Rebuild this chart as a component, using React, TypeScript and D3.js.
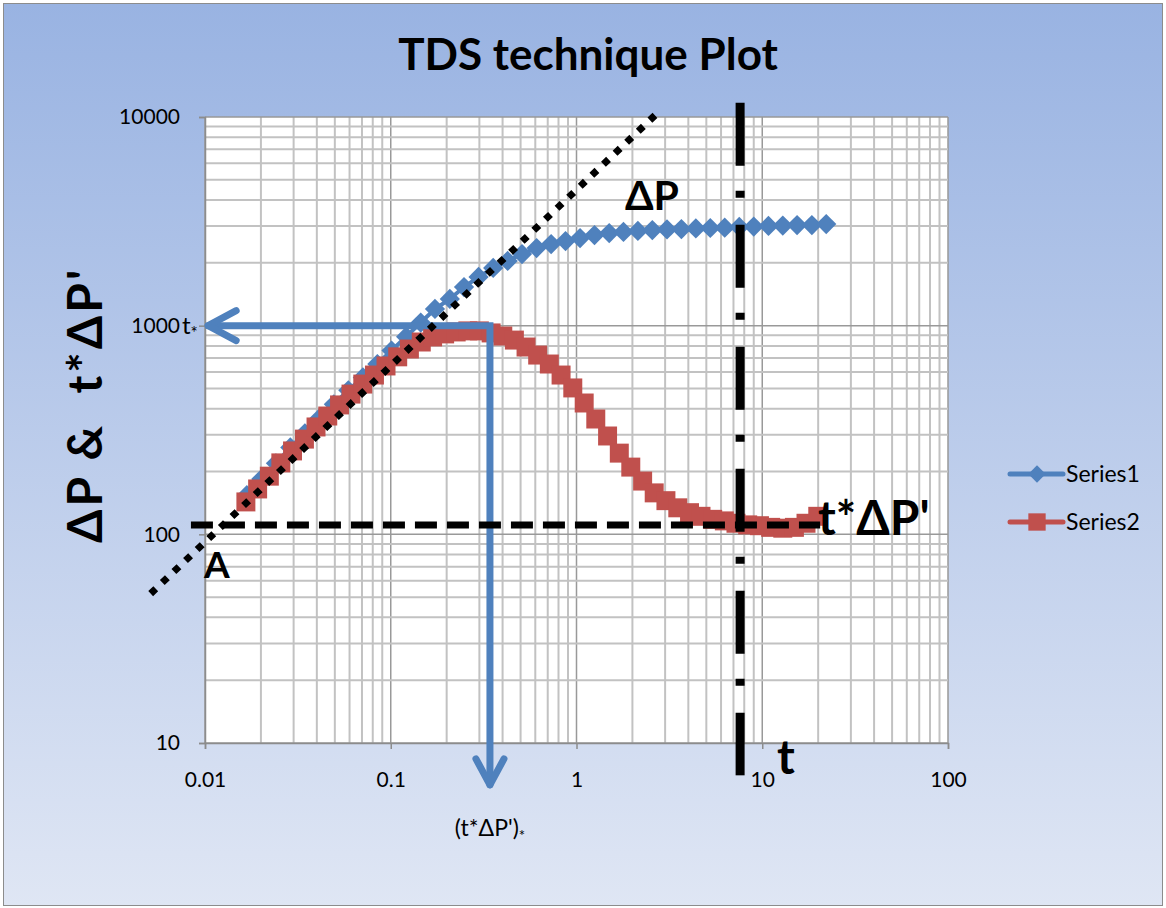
import React, { useEffect, useRef } from 'react';
import * as d3 from 'd3';

const W = 1166;
const H = 908;

// Series1 : delta P
const s1Time = [0.0168, 0.0201, 0.0241, 0.0288, 0.0345, 0.0413, 0.0494, 0.0591, 0.0708, 0.0847, 0.101, 0.121, 0.145, 0.173, 0.208, 0.248, 0.297, 0.356, 0.426, 0.509, 0.61, 0.73, 0.873, 1.045, 1.25, 1.5, 1.79, 2.14, 2.56, 3.07, 3.67, 4.39, 5.25, 6.28, 7.52, 9.0, 10.8, 12.9, 15.4, 18.5, 22.1];
const s1Values = [154, 184, 219, 261, 305, 360, 420, 490, 565, 655, 760, 885, 1035, 1202, 1343, 1532, 1711, 1890, 2042, 2205, 2356, 2462, 2545, 2630, 2718, 2780, 2812, 2845, 2873, 2890, 2905, 2925, 2938, 2950, 2972, 2985, 3006, 3020, 3034, 3034, 3069];

// Series2 : t*delta P'
const s2Time = [0.0166, 0.0192, 0.0222, 0.0256, 0.0296, 0.0343, 0.0396, 0.0458, 0.053, 0.0611, 0.0707, 0.0817, 0.0943, 0.109, 0.126, 0.146, 0.168, 0.195, 0.225, 0.26, 0.3, 0.347, 0.401, 0.463, 0.535, 0.618, 0.714, 0.826, 0.955, 1.1, 1.27, 1.47, 1.7, 1.96, 2.27, 2.62, 3.03, 3.51, 4.06, 4.68, 5.41, 6.25, 7.22, 8.35, 9.66, 11.1, 12.9, 14.9, 17.2, 19.9];
const s2Values = [143, 165, 190, 220, 251, 286, 327, 369, 417, 470, 525, 580, 641, 709, 773, 835, 883, 913, 933, 944, 944, 923, 892, 853, 790, 723, 655, 580, 503, 426, 357, 296, 245, 210, 180, 158, 145, 134, 127, 122, 118, 116, 113, 111, 110, 108, 107, 108, 113, 122];

const xTickValues = [0.01, 0.1, 1, 10, 100];
const yTickValues = [10, 100, 1000, 10000];
const legendNames = ['Series1', 'Series2'];
const seriesColors = ['#4f81bd', '#c0504d'];

// construction lines, in data units
const slopeT = [0.0051, 2.65];
const slopeV = [52, 10200];
const radialLevel = 111;
const radialT = [0.0084, 20.5];
const tLineT = 7.6;
const tLineV = [7.0, 11700];
const peakT = 0.342;
const peakV = 1000;
const arrowLeftT = 0.0104;
const arrowDownV = 6.3;

function TDSPlot() {
    const svgRef = useRef<SVGSVGElement>(null);

    useEffect(() => {
        if (!svgRef.current) return;
        const svg = d3.select(svgRef.current);
        svg.selectAll('*').remove();
        const font = 'Lato, "Open Sans", sans-serif';

        const grad = svg.append('defs').append('linearGradient')
            .attr('id', 'bg').attr('x1', 0).attr('y1', 0).attr('x2', 0).attr('y2', 1);
        grad.append('stop').attr('offset', '0%').attr('stop-color', '#99b3e2');
        grad.append('stop').attr('offset', '100%').attr('stop-color', '#dfe6f4');

        svg.append('rect')
            .attr('x', 3.5).attr('y', 3.5).attr('width', W - 7).attr('height', H - 6)
            .attr('fill', 'url(#bg)').attr('stroke', '#8c8c8c');

        const x = d3.scaleLog().domain([0.01, 100]).range([205, 948]);
        const y = d3.scaleLog().domain([10, 10000]).range([743, 117]);

        svg.append('rect')
            .attr('x', x(0.01)).attr('y', y(10000))
            .attr('width', x(100) - x(0.01)).attr('height', y(10) - y(10000))
            .attr('fill', '#fff');

        const isMajor = (d: number) => Math.abs(Math.log10(d) - Math.round(Math.log10(d))) < 1e-6;

        // gridlines
        const grid = svg.append('g');
        grid.selectAll('line.gx').data(x.ticks()).join('line')
            .attr('x1', d => x(d)).attr('x2', d => x(d))
            .attr('y1', y(10)).attr('y2', y(10000))
            .attr('stroke', d => isMajor(d) ? '#999' : '#c2c2c2')
            .attr('stroke-width', d => isMajor(d) ? 1.5 : 2);
        grid.selectAll('line.gy').data(y.ticks()).join('line')
            .attr('y1', d => y(d)).attr('y2', d => y(d))
            .attr('x1', x(0.01)).attr('x2', x(100))
            .attr('stroke', d => isMajor(d) ? '#999' : '#c2c2c2')
            .attr('stroke-width', d => isMajor(d) ? 1.5 : 2);

        // axes
        const xAxis = svg.append('g')
            .attr('transform', `translate(0,${y(10)})`)
            .call(d3.axisBottom(x).tickValues(xTickValues).tickFormat(d3.format('~g')).tickSize(6).tickPadding(23));
        const yAxis = svg.append('g')
            .attr('transform', `translate(${x(0.01)},0)`)
            .call(d3.axisLeft(y).tickValues(yTickValues).tickFormat(d3.format('~g')).tickSize(6).tickPadding(19));
        [xAxis, yAxis].forEach(ax => {
            ax.select('.domain').attr('stroke', '#8c8c8c').attr('stroke-width', 1.5);
            ax.selectAll('.tick line').attr('stroke', '#8c8c8c').attr('stroke-width', 1.5);
            ax.selectAll('.tick text').attr('font-family', font).attr('font-size', 21).attr('fill', '#000');
        });

        // series
        const series = [
            s1Time.map((t, i) => ({ t, v: s1Values[i] })),
            s2Time.map((t, i) => ({ t, v: s2Values[i] })),
        ];
        const line = d3.line<{ t: number; v: number }>().x(d => x(d.t)).y(d => y(d.v));
        const diamond = d3.symbol(d3.symbolSquare, 205);
        const square = d3.symbol(d3.symbolSquare, 360);

        series.forEach((data, si) => {
            const g = svg.append('g');
            g.append('path').datum(data)
                .attr('fill', 'none').attr('stroke', seriesColors[si]).attr('stroke-width', 4)
                .attr('d', line);
            g.selectAll('path.m').data(data).join('path')
                .attr('class', 'm')
                .attr('d', si === 0 ? diamond : square)
                .attr('transform', d => `translate(${x(d.t)},${y(d.v)})${si === 0 ? ' rotate(45)' : ''}`)
                .attr('fill', seriesColors[si]);
        });

        // blue arrows to the peak
        const ax0 = x(peakT);
        const ay0 = y(peakV);
        const arrows = svg.append('g')
            .attr('fill', 'none').attr('stroke', '#4f81bd').attr('stroke-width', 7)
            .attr('stroke-linecap', 'round').attr('stroke-linejoin', 'miter');
        arrows.append('path')
            .attr('d', `M${x(arrowLeftT)},${ay0} L${ax0},${ay0} L${ax0},${y(arrowDownV)}`);
        const lx = x(arrowLeftT);
        arrows.append('path')
            .attr('stroke-linejoin', 'round')
            .attr('d', `M${lx + 28},${ay0 - 15} L${lx},${ay0} L${lx + 28},${ay0 + 15}`);
        const by = y(arrowDownV);
        arrows.append('path')
            .attr('stroke-linejoin', 'round')
            .attr('d', `M${ax0 - 14},${by - 26} L${ax0},${by} L${ax0 + 14},${by - 26}`);

        // black construction lines
        svg.append('line')
            .attr('x1', x(slopeT[0])).attr('y1', y(slopeV[0]))
            .attr('x2', x(slopeT[1])).attr('y2', y(slopeV[1]))
            .attr('stroke', '#000').attr('stroke-width', 7).attr('stroke-dasharray', '7 9');
        svg.append('line')
            .attr('x1', x(radialT[0])).attr('y1', y(radialLevel))
            .attr('x2', x(radialT[1])).attr('y2', y(radialLevel))
            .attr('stroke', '#000').attr('stroke-width', 7).attr('stroke-dasharray', '22 10');
        svg.append('line')
            .attr('x1', x(tLineT)).attr('y1', y(tLineV[1]))
            .attr('x2', x(tLineT)).attr('y2', y(tLineV[0]))
            .attr('stroke', '#000').attr('stroke-width', 9).attr('stroke-dasharray', '63 25 7 27');

        // texts
        const txt = (tx: number, ty: number, s: string, size: number, bold = true, anchor = 'start') =>
            svg.append('text')
                .attr('x', tx).attr('y', ty)
                .attr('font-family', font).attr('font-size', size)
                .attr('font-weight', bold ? 'bold' : 'normal')
                .attr('text-anchor', anchor).attr('fill', '#000')
                .text(s);

        txt(588, 70, 'TDS technique Plot', 44, true, 'middle');
        svg.append('text')
            .attr('transform', 'translate(102,405) rotate(-90)')
            .attr('font-family', font).attr('font-size', 48).attr('font-weight', 'bold')
            .attr('letter-spacing', 3)
            .attr('text-anchor', 'middle')
            .text('ΔP &\u00a0\u00a0t*ΔP\'');
        txt(625, 210, 'ΔP', 41);
        txt(818, 535, 't*ΔP\'', 48);
        txt(204, 578, 'A', 37);
        txt(777, 774, 't', 48);

        const ts = svg.append('text').attr('x', 182).attr('y', 334)
            .attr('font-family', font).attr('font-size', 24);
        ts.append('tspan').text('t');
        ts.append('tspan').attr('font-size', 17).attr('dy', 5).text('*');

        const tp = svg.append('text').attr('x', 490).attr('y', 836)
            .attr('font-family', font).attr('font-size', 23).attr('text-anchor', 'middle');
        tp.append('tspan').text('(t*ΔP\')');
        tp.append('tspan').attr('font-size', 15).attr('dy', 5).text('*');

        // legend
        legendNames.forEach((name, i) => {
            const ly = 474 + i * 48;
            const g = svg.append('g');
            g.append('line')
                .attr('x1', 1010).attr('x2', 1063).attr('y1', ly).attr('y2', ly)
                .attr('stroke', seriesColors[i]).attr('stroke-width', 5).attr('stroke-linecap', 'round');
            g.append('path')
                .attr('d', d3.symbol(d3.symbolSquare, i === 0 ? 150 : 300)())
                .attr('transform', `translate(1037,${ly})${i === 0 ? ' rotate(45)' : ''}`)
                .attr('fill', seriesColors[i]);
            g.append('text')
                .attr('x', 1066).attr('y', ly + 8)
                .attr('font-family', font).attr('font-size', 23)
                .text(name);
        });
    }, []);

    return (
        <svg ref={svgRef} width={W} height={H}
            style={{ position: 'absolute', left: 0, top: 0 }} />
    );
}

export default function App() {
    return <TDSPlot />;
}
